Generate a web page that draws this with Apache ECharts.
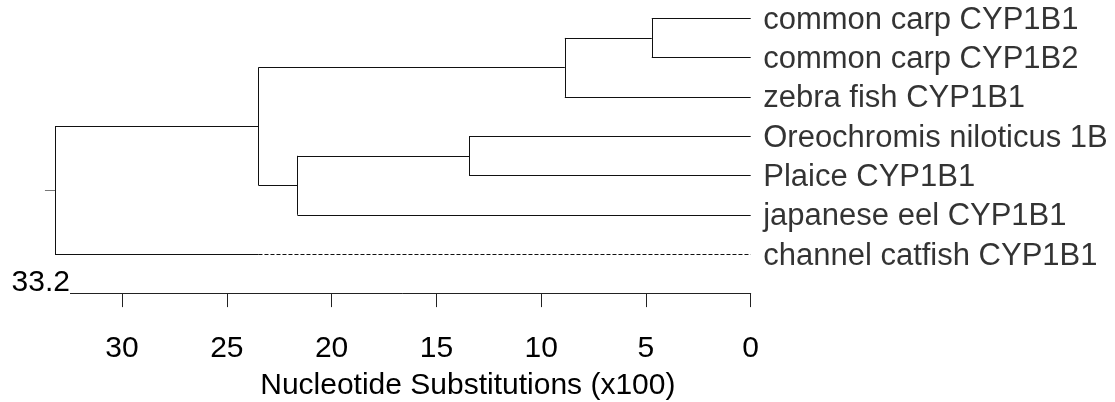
<!DOCTYPE html>
<html>
<head>
<meta charset="utf-8">
<script src="https://cdn.jsdelivr.net/npm/echarts@6/dist/echarts.min.js"></script>
<style>
html,body{margin:0;padding:0;background:#fff;}
#chart{width:1115px;height:402px;}
</style>
</head>
<body>
<div id="chart"></div>
<script>
// Leaves, top to bottom
const leaves = [
  'common carp CYP1B1',
  'common carp CYP1B2',
  'zebra fish CYP1B1',
  'Oreochromis niloticus 1B',
  'Plaice CYP1B1',
  'japanese eel CYP1B1',
  'channel catfish CYP1B1'
];
// Merges: internal node ids start at leaves.length (7)
const mergeLeft   = [0, 7, 3, 9, 8, 11];
const mergeRight  = [1, 2, 4, 5, 10, 6];
const mergeHeight = [4.72, 8.87, 13.44, 21.63, 23.49, 33.2];
// Tick labels on the distance axis
const tickValues = [0, 5, 10, 15, 20, 25, 30];
const axisTitle = 'Nucleotide Substitutions (x100)';

const n = leaves.length;
const nodeX = [], nodeY = [];
for (let i = 0; i < n; i++) { nodeX[i] = 0; nodeY[i] = i; }
for (let k = 0; k < mergeHeight.length; k++) {
  const id = n + k;
  nodeX[id] = mergeHeight[k];
  nodeY[id] = (nodeY[mergeLeft[k]] + nodeY[mergeRight[k]]) / 2;
}
const rootId = n + mergeHeight.length - 1;
const rootH = mergeHeight[mergeHeight.length - 1];

const solid = [], dashed = [];
for (let k = 0; k < mergeHeight.length; k++) {
  const h = mergeHeight[k], a = mergeLeft[k], b = mergeRight[k];
  solid.push({coords: [[h, nodeY[a]], [h, nodeY[b]]]});
  [a, b].forEach(c => {
    const isRootLeaf = (n + k === rootId) && c < n;
    if (isRootLeaf) {
      // solid until sibling's height, dashed to the leaf
      const sib = c === a ? b : a;
      const split = nodeX[sib];
      solid.push({coords: [[h, nodeY[c]], [split, nodeY[c]]]});
      dashed.push({coords: [[split, nodeY[c]], [nodeX[c], nodeY[c]]]});
    } else {
      solid.push({coords: [[h, nodeY[c]], [nodeX[c], nodeY[c]]]});
    }
  });
}
const stub = [{coords: [[rootH, nodeY[rootId]], [rootH + 0.48, nodeY[rootId]]]}];

const FONT = '"Liberation Sans", Arial, sans-serif';
const chart = echarts.init(document.getElementById('chart'), null, {renderer: 'canvas'});
chart.setOption({
  animation: false,
  backgroundColor: '#fff',
  grid: {left: 55, right: 364.3, top: 18.3, bottom: 147.9, containLabel: false, outerBoundsMode: 'none'},
  xAxis: {
    type: 'value', inverse: true, min: 0, max: rootH, interval: 5,
    position: 'bottom', offset: 39,
    name: axisTitle, nameLocation: 'middle', nameGap: 78,
    nameTextStyle: {fontFamily: FONT, fontSize: 30, color: '#000', padding: [0, 0, 0, 130]},
    axisLine: {show: true, onZero: false, lineStyle: {color: '#222', width: 1}},
    axisTick: {show: true, length: 14, inside: false, customValues: tickValues, lineStyle: {color: '#222'}},
    axisLabel: {show: true, customValues: tickValues, margin: 41, fontFamily: FONT, fontSize: 30, color: '#000'},
    splitLine: {show: false}
  },
  yAxis: {type: 'value', inverse: true, min: 0, max: n - 1, show: false},
  graphic: [],
  series: [
    {type: 'lines', coordinateSystem: 'cartesian2d', silent: true, clip: false,
     data: solid, lineStyle: {color: '#111', width: 1, opacity: 1}},
    {type: 'lines', coordinateSystem: 'cartesian2d', silent: true, clip: false,
     data: dashed, lineStyle: {color: '#111', width: 1, opacity: 1, type: [4, 2]}},
    {type: 'lines', coordinateSystem: 'cartesian2d', silent: true, clip: false,
     data: stub, lineStyle: {color: '#777', width: 1, opacity: 1}},
    {type: 'scatter', silent: true, symbolSize: 1, itemStyle: {color: 'rgba(0,0,0,0)'},
     data: leaves.map((name, i) => [0, i, name]),
     label: {show: true, position: 'right', distance: 12, offset: [0, 2], formatter: p => p.data[2],
             fontFamily: FONT, fontSize: 31, color: '#000'}}
  ]
});
// Root distance label placed at the axis start
const px = chart.convertToPixel({xAxisIndex: 0}, rootH);
const axisY = chart.convertToPixel({yAxisIndex: 0}, n - 1) + 39;
chart.setOption({
  graphic: [{
    type: 'text', z: 100,
    style: {text: String(rootH), x: px + 15, y: axisY - 10, align: 'right', verticalAlign: 'middle',
            font: '30px ' + FONT, fill: '#000', backgroundColor: '#fff'}
  }]
});
</script>
</body>
</html>
